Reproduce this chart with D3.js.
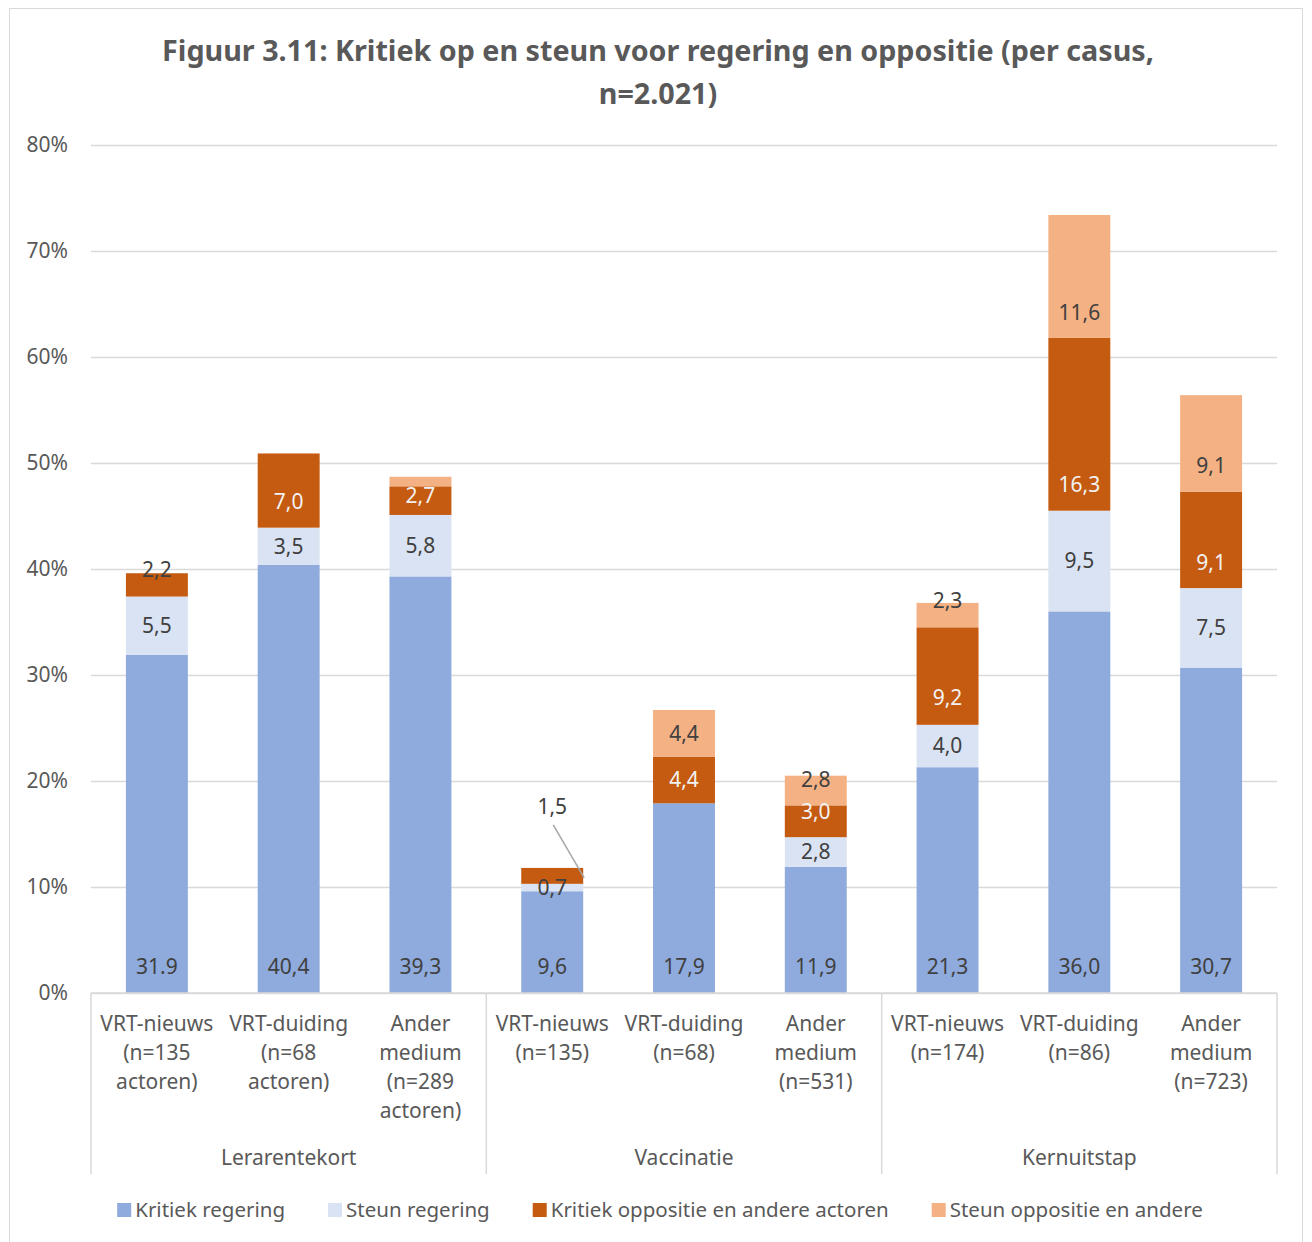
<!DOCTYPE html>
<html>
<head>
<meta charset="utf-8">
<script src="https://cdn.jsdelivr.net/npm/d3@7"></script>
<style>
  body { margin: 0; background: #fff; }
  text { font-family: "Noto Sans", sans-serif; }
</style>
</head>
<body>
<svg id="chart" width="1312" height="1242"></svg>
<script>
// data
const groups = ["Lerarentekort", "Vaccinatie", "Kernuitstap"];
const categories = [
    ["VRT-nieuws", "(n=135", "actoren)"],
    ["VRT-duiding", "(n=68", "actoren)"],
    ["Ander", "medium", "(n=289", "actoren)"],
    ["VRT-nieuws", "(n=135)"],
    ["VRT-duiding", "(n=68)"],
    ["Ander", "medium", "(n=531)"],
    ["VRT-nieuws", "(n=174)"],
    ["VRT-duiding", "(n=86)"],
    ["Ander", "medium", "(n=723)"]
];
const kritiekRegering  = [31.9, 40.4, 39.3, 9.6, 17.9, 11.9, 21.3, 36.0, 30.7];
const steunRegering    = [5.5, 3.5, 5.8, 0.7, 0, 2.8, 4.0, 9.5, 7.5];
const kritiekOppositie = [2.2, 7.0, 2.7, 1.5, 4.4, 3.0, 9.2, 16.3, 9.1];
const steunOppositie   = [0, 0, 0.9, 0, 4.4, 2.8, 2.3, 11.6, 9.1];
const seriesNames = ["Kritiek regering", "Steun regering", "Kritiek oppositie en andere actoren", "Steun oppositie en andere"];
const yTicks = [0, 10, 20, 30, 40, 50, 60, 70, 80];

const colors = ["#8faadc", "#dae3f3", "#c55a11", "#f4b183"];
const labelColors = ["#404040", "#404040", "#f2f2f2", "#404040"];
const fontSize = 21;

// label tweaks (mirrors the manual moves in the original)
const hiddenLabels = ["2|3"];
const dotLabels = ["0|0"];
const darkLabels = ["0|2", "3|2"];
const labelNudge = { "0|2": -15, "1|2": 11, "2|2": -5, "5|2": -10, "5|3": -11,
    "6|2": 22, "6|3": -14, "7|2": 60, "7|3": 36, "8|2": 23, "8|3": 22 };
const calloutLabels = ["3|2"];

const rows = categories.map((c, i) => ({
    idx: i,
    group: groups[Math.floor(i / 3)],
    k0: kritiekRegering[i], k1: steunRegering[i], k2: kritiekOppositie[i], k3: steunOppositie[i]
}));
const keys = ["k0", "k1", "k2", "k3"];

const svg = d3.select("#chart");
const margin = { left: 91, right: 1277, top: 145, bottom: 993 };

// chart border
svg.append("rect")
    .attr("x", 9.5).attr("y", 8.5)
    .attr("width", 1293).attr("height", 1240)
    .attr("fill", "none").attr("stroke", "#d9d9d9");

// title
const title = svg.append("text")
    .attr("text-anchor", "middle")
    .attr("font-weight", "bold")
    .attr("font-size", 28.7)
    .attr("fill", "#595959");
title.append("tspan").attr("x", 658).attr("y", 61)
    .text("Figuur 3.11: Kritiek op en steun voor regering en oppositie (per casus,");
title.append("tspan").attr("x", 658).attr("y", 104).text("n=2.021)");

const x = d3.scaleBand()
    .domain(rows.map(d => d.idx))
    .range([margin.left, margin.right])
    .paddingInner(0.53)
    .paddingOuter(0.265);

const y = d3.scaleLinear()
    .domain([0, 80])
    .range([margin.bottom, margin.top]);

// gridlines
const yGrid = d3.axisRight(y)
    .tickValues(yTicks)
    .tickFormat(() => null)
    .tickSizeOuter(0)
    .tickSizeInner(margin.right - margin.left);
svg.append("g")
    .attr("transform", `translate(${margin.left},0)`)
    .call(yGrid)
    .call(g => g.select(".domain").remove())
    .call(g => g.selectAll("line").attr("stroke", "#d9d9d9").attr("stroke-width", 1.5));

// y axis labels
const yAxis = d3.axisLeft(y)
    .tickValues(yTicks)
    .tickFormat(d => d + "%")
    .tickSize(0)
    .tickPadding(23);
svg.append("g")
    .attr("transform", `translate(${margin.left},0)`)
    .call(yAxis)
    .call(g => g.select(".domain").remove())
    .call(g => g.selectAll("text")
        .attr("font-size", fontSize)
        .attr("fill", "#595959")
        .style("font-family", "'Noto Sans', sans-serif"));

// stacked bars
const stack = d3.stack().keys(keys);
const stacked = stack(rows);

const layers = svg.append("g").selectAll("g")
    .data(stacked)
    .join("g")
    .attr("fill", (d, i) => colors[i]);

layers.selectAll("rect")
    .data(d => d)
    .join("rect")
    .attr("x", d => x(d.data.idx))
    .attr("width", x.bandwidth())
    .attr("y", d => y(d[1]))
    .attr("height", d => y(d[0]) - y(d[1]));

// data labels
const fmt = d3.format(".1f");
const labelG = svg.append("g")
    .attr("text-anchor", "middle")
    .attr("font-size", fontSize);

stacked.forEach((layer, si) => {
    layer.forEach(d => {
        const v = d[1] - d[0];
        const key = d.data.idx + "|" + si;
        if (v <= 0 || hiddenLabels.includes(key)) return;
        let txt = fmt(v);
        if (!dotLabels.includes(key)) txt = txt.replace(".", ",");
        const cx = x(d.data.idx) + x.bandwidth() / 2;
        let cy;
        if (si === 0) {
            cy = y(0) - 26; // inside base
        } else {
            cy = (y(d[0]) + y(d[1])) / 2 + (labelNudge[key] || 0);
        }
        const fill = darkLabels.includes(key) ? "#404040" : labelColors[si];
        if (calloutLabels.includes(key)) {
            cy = y(d[1]) - 61;
            labelG.append("line")
                .attr("x1", cx + 1).attr("y1", cy + 18)
                .attr("x2", x(d.data.idx) + x.bandwidth() + 1)
                .attr("y2", (y(d[0]) + y(d[1])) / 2 + 2)
                .attr("stroke", "#a6a6a6")
                .attr("stroke-width", 1.5);
        }
        labelG.append("text")
            .attr("x", cx)
            .attr("y", cy)
            .attr("dy", "0.35em")
            .attr("fill", fill)
            .text(txt);
    });
});

// category axis (two levels)
const axisBottom = 1174;
svg.append("line")
    .attr("x1", margin.left).attr("x2", margin.right)
    .attr("y1", y(0)).attr("y2", y(0))
    .attr("stroke", "#d9d9d9").attr("stroke-width", 1.5);

const groupBounds = d3.range(groups.length + 1).map(i =>
    margin.left + i * (margin.right - margin.left) / groups.length);
svg.append("g").selectAll("line")
    .data(groupBounds)
    .join("line")
    .attr("x1", d => d).attr("x2", d => d)
    .attr("y1", y(0)).attr("y2", axisBottom)
    .attr("stroke", "#d9d9d9").attr("stroke-width", 1.5);

const catG = svg.append("g")
    .attr("text-anchor", "middle")
    .attr("font-size", fontSize)
    .attr("fill", "#595959");
categories.forEach((lines, i) => {
    const t = catG.append("text");
    lines.forEach((ln, j) => {
        t.append("tspan")
            .attr("x", x(i) + x.bandwidth() / 2)
            .attr("y", 1031 + j * 29)
            .text(ln);
    });
});
catG.selectAll(".grp")
    .data(groups)
    .join("text")
    .attr("class", "grp")
    .attr("x", (d, i) => (groupBounds[i] + groupBounds[i + 1]) / 2)
    .attr("y", 1165)
    .text(d => d);

// legend
const legend = svg.append("g").attr("font-size", 20.5).attr("fill", "#595959");
const items = legend.selectAll("g")
    .data(seriesNames)
    .join("g");
items.append("rect")
    .attr("width", 14).attr("height", 14)
    .attr("y", -7)
    .attr("fill", (d, i) => colors[i]);
items.append("text")
    .attr("x", 18)
    .attr("dy", "0.35em")
    .text(d => d);
let xpos = 0;
items.each(function() {
    const w = this.getBBox().width;
    d3.select(this).attr("data-x", xpos);
    xpos += w + 43;
});
const total = xpos - 43;
const startX = 660 - total / 2;
items.attr("transform", function() {
    return `translate(${startX + (+this.getAttribute("data-x"))},1210)`;
});
</script>
</body>
</html>
